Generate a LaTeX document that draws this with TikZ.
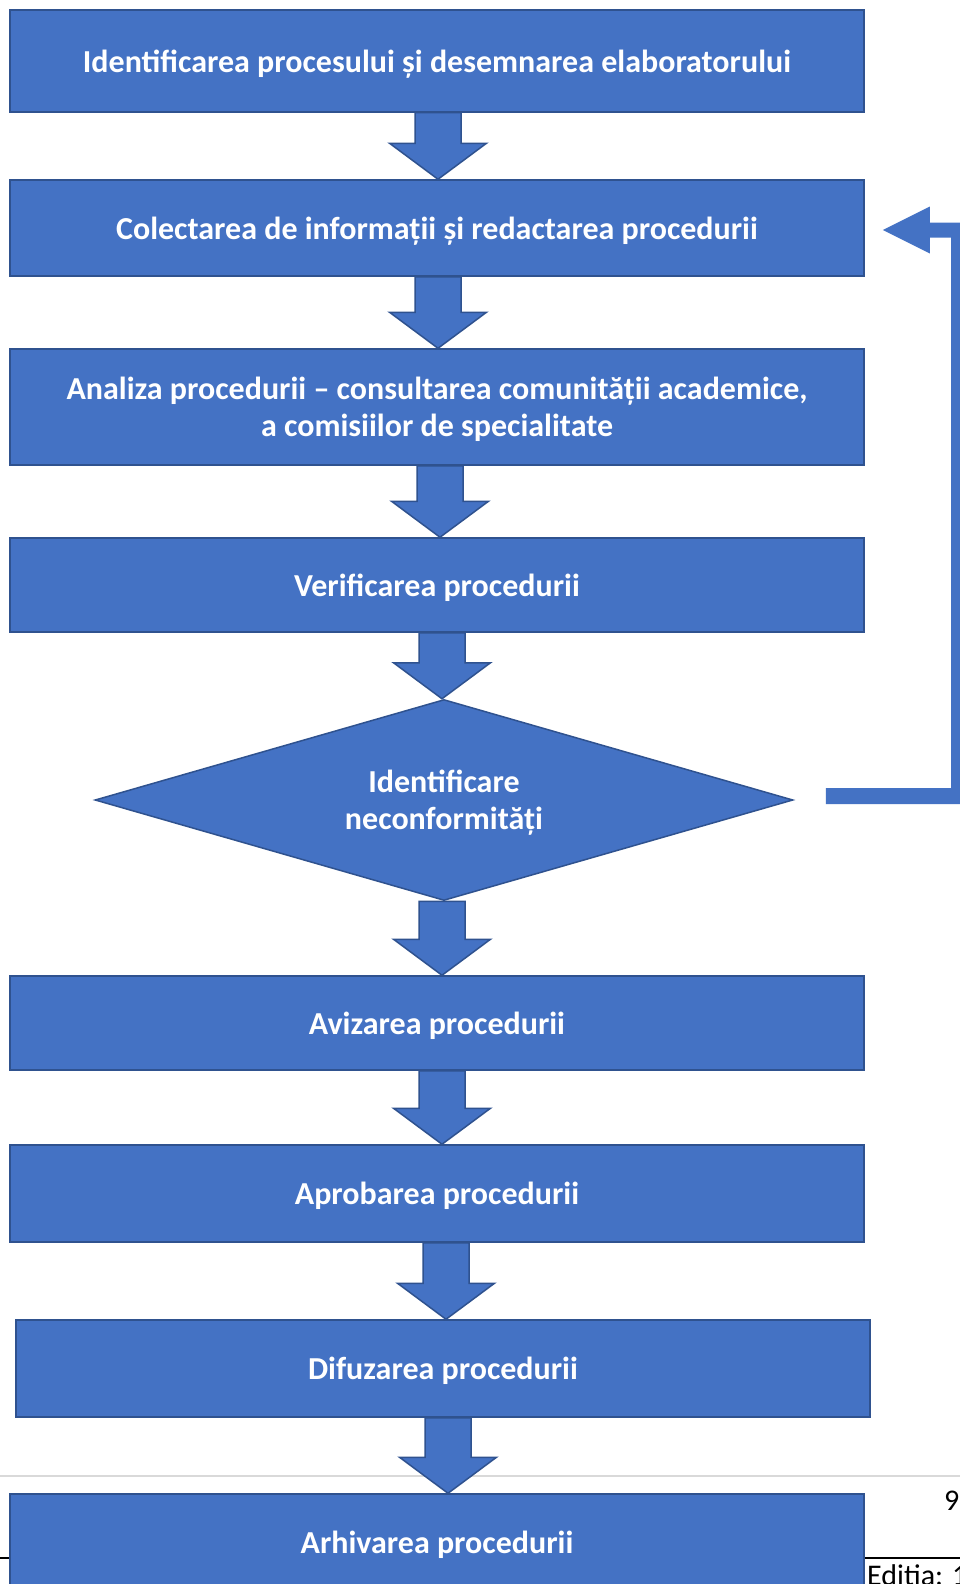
\documentclass[tikz,border=0pt]{standalone}
\usepackage{fontspec}
\setmainfont{Carlito}
\usetikzlibrary{shapes.geometric,calc}
\definecolor{boxblue}{HTML}{4472C4}
\definecolor{boxedge}{HTML}{2F528F}
\definecolor{rulegray}{HTML}{D9D9D9}
\tikzset{
  boxfont/.style={font=\fontsize{32}{37}\selectfont\bfseries},
  stepbox/.style={rectangle, fill=boxblue, draw=boxedge, line width=1.5pt, text=white,
    boxfont, align=center, inner sep=0pt, text depth=0pt, minimum width=854pt},
  decisionbox/.style={diamond, aspect=3.47, fill=boxblue, draw=boxedge, line width=1.5pt, text=white,
    boxfont, align=center, inner sep=0pt, text depth=0pt, minimum width=698pt, minimum height=201pt},
  blockarrow/.style={fill=boxblue, draw=boxedge, line width=1.5pt, line join=miter},
  loopfill/.style={fill=boxblue, draw=none},
  pagetext/.style={font=\fontsize{30}{36}\selectfont, text=black, inner sep=0pt},
}
\newcommand{\flowarrow}[3]{%
  \path[blockarrow] let \p1=(#1.south), \p2=(#2.north) in
    ({(#3-23)*1pt},\y1) -- ({(#3+23)*1pt},\y1) -- ({(#3+23)*1pt},\y2+36pt)
    -- ({(#3+48.5)*1pt},\y2+36pt) -- ({#3*1pt},\y2) -- ({(#3-48.5)*1pt},\y2+36pt)
    -- ({(#3-23)*1pt},\y2+36pt) -- cycle;}
\begin{document}
\begin{tikzpicture}[x=1pt,y=-1pt]
\useasboundingbox (0,0) rectangle (960,1584);
\clip (0,0) rectangle (960,1584);
\fill[white] (0,0) rectangle (960,1584);
% page rules
\draw[rulegray, line width=2pt] (0,1476) -- (960,1476);
\draw[black, line width=1.5pt] (0,1558) -- (960,1558);
\draw[black, line width=1.2pt] (864,1558) -- (864,1590);
% boxes
\node[stepbox, minimum height=102pt] (b1) at (437,61) {Identificarea procesului și desemnarea elaboratorului};
\node[stepbox, minimum height=96pt] (b2) at (437,228) {Colectarea de informații și redactarea procedurii};
\node[stepbox, minimum height=116pt] (b3) at (437,407) {Analiza procedurii – consultarea comunității academice,\\ a comisiilor de specialitate};
\node[stepbox, minimum height=94pt] (b4) at (437,585) {Verificarea procedurii};
\node[decisionbox] (dec) at (444,800) {Identificare\\ neconformități};
\node[stepbox, minimum height=94pt] (b5) at (437,1023) {Avizarea procedurii};
\node[stepbox, minimum height=97pt] (b6) at (437,1193.5) {Aprobarea procedurii};
\node[stepbox, minimum height=97pt] (b7) at (443,1368.5) {Difuzarea procedurii};
\node[stepbox, minimum height=96pt] (b8) at (437,1542) {Arhivarea procedurii};
% block arrows
\flowarrow{b1}{b2}{438}
\flowarrow{b2}{b3}{438}
\flowarrow{b3}{b4}{440}
\flowarrow{b4}{dec}{442}
\flowarrow{dec}{b5}{442}
\flowarrow{b5}{b6}{442}
\flowarrow{b6}{b7}{446}
\flowarrow{b7}{b8}{448}
% loop back connector
\path[loopfill] let \p1=(dec.east), \p2=(b2.east) in
  (\x1+32pt,\y1+12pt) -- (951pt,\y1+12pt) -- (951pt,\y2-9.5pt)
  -- (\x2+65pt,\y2-9.5pt) -- (\x2+65pt,\y2-25.5pt) -- (\x2+18pt,\y2-2pt)
  -- (\x2+65pt,\y2+21.5pt) -- (\x2+65pt,\y2+5.5pt) -- (966pt,\y2+5.5pt)
  -- (966pt,\y1-4pt) -- (\x1+32pt,\y1-4pt) -- cycle;
% page texts
\node[pagetext, anchor=base west] (pgnum) at (944,1510) {9};
\node[pagetext, anchor=base west] (edition) at (867,1585) {Editia: 1};
\end{tikzpicture}
\end{document}
